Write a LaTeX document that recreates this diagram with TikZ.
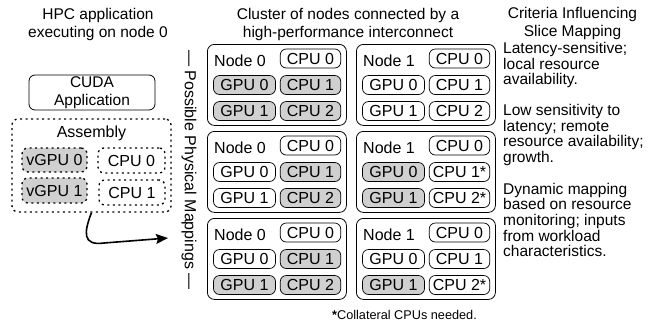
\documentclass[tikz,border=0pt]{standalone}
\usepackage{fontspec}
\setmainfont{Liberation Sans}
\usetikzlibrary{arrows.meta}
\definecolor{boxgray}{RGB}{208,208,208}
\begin{document}
\begin{tikzpicture}[x=1pt,y=-1pt,
  every node/.style={font=\fontsize{16}{18}\selectfont},
  heading/.style={align=center, inner sep=0, font=\fontsize{15.5}{18}\selectfont},
  crit/.style={align=left, anchor=west, inner sep=0, font=\fontsize{15.5}{15.7}\selectfont},
  nodebox/.style={draw, rounded corners=7pt, minimum width=139pt, minimum height=81pt, anchor=north west, inner sep=0, line width=0.8pt},
  unit/.style={draw, rounded corners=6pt, minimum height=19pt, inner sep=0, line width=0.7pt},
  gpuu/.style={unit, minimum width=62pt},
  cpuu/.style={unit, minimum width=60.5pt},
  busy/.style={fill=boxgray},
  dotbox/.style={draw, dash pattern=on 2pt off 3.5pt, line width=1.3pt, rounded corners=6pt, inner sep=0},
]
\useasboundingbox (0,0) rectangle (655,325);

% left column
\node[heading] (hpc) at (98,24) {HPC application\\executing on node 0};
\node[draw, rounded corners=6pt, line width=0.8pt, minimum width=126pt, minimum height=35pt, align=center, inner sep=0, font=\fontsize{15.5}{18}\selectfont] (cuda) at (92,92.5) {CUDA\\Application};
\node[dotbox, minimum width=159pt, minimum height=93pt] (asm) at (91.5,165.5) {};
\node (asml) at (91.5,133) {Assembly};
\node[dotbox, busy, minimum width=65pt, minimum height=24pt] (vg0) at (54.5,160) {vGPU 0};
\node[dotbox, minimum width=67pt, minimum height=25pt] (ac0) at (131.5,160.5) {CPU 0};
\node[dotbox, busy, minimum width=65pt, minimum height=25pt] (vg1) at (54.5,190.5) {vGPU 1};
\node[dotbox, minimum width=66pt, minimum height=25pt] (ac1) at (132,192.5) {CPU 1};
\coordinate (arrowend) at (168,238);
\draw[line width=1.6pt, -{Stealth[length=12pt,width=10pt,inset=2pt]}] (asm.south) .. controls (84,232) and (82,246) .. (104,243) -- (arrowend);

\node[rotate=-90, inner sep=0] (ppm) at (189,170) {— Possible Physical Mappings —};

% cluster
\node[heading] (clh) at (348,24) {Cluster of nodes connected by a\\high-performance interconnect};

% row 1
\begin{scope}[shift={(207,44)}]
\node[nodebox] (b1) at (0,0) {};
\node (b1l) at (33,17) {Node 0};
\node[cpuu] (b1c0) at (103.5,14.5) {CPU 0};
\node[gpuu,busy] (b1g0) at (37.5,41) {GPU 0};
\node[cpuu,busy] (b1c1) at (103.5,41) {CPU 1};
\node[gpuu,busy] (b1g1) at (37.5,67) {GPU 1};
\node[cpuu,busy] (b1c2) at (103.5,67) {CPU 2};
\end{scope}
\begin{scope}[shift={(356,44)}]
\node[nodebox] (b2) at (0,0) {};
\node (b2l) at (33,17) {Node 1};
\node[cpuu] (b2c0) at (103.5,14.5) {CPU 0};
\node[gpuu] (b2g0) at (37.5,41) {GPU 0};
\node[cpuu] (b2c1) at (103.5,41) {CPU 1};
\node[gpuu] (b2g1) at (37.5,67) {GPU 1};
\node[cpuu] (b2c2) at (103.5,67) {CPU 2};
\end{scope}
% row 2
\begin{scope}[shift={(207,131)}]
\node[nodebox] (b3) at (0,0) {};
\node (b3l) at (33,17) {Node 0};
\node[cpuu] (b3c0) at (103.5,14.5) {CPU 0};
\node[gpuu] (b3g0) at (37.5,41) {GPU 0};
\node[cpuu,busy] (b3c1) at (103.5,41) {CPU 1};
\node[gpuu] (b3g1) at (37.5,67) {GPU 1};
\node[cpuu,busy] (b3c2) at (103.5,67) {CPU 2};
\end{scope}
\begin{scope}[shift={(356,131)}]
\node[nodebox] (b4) at (0,0) {};
\node (b4l) at (33,17) {Node 1};
\node[cpuu] (b4c0) at (103.5,14.5) {CPU 0};
\node[gpuu,busy] (b4g0) at (37.5,41) {GPU 0};
\node[cpuu] (b4c1) at (103.5,41) {CPU 1*};
\node[gpuu,busy] (b4g1) at (37.5,67) {GPU 1};
\node[cpuu] (b4c2) at (103.5,67) {CPU 2*};
\end{scope}
% row 3
\begin{scope}[shift={(207,218)}]
\node[nodebox] (b5) at (0,0) {};
\node (b5l) at (33,17) {Node 0};
\node[cpuu] (b5c0) at (103.5,14.5) {CPU 0};
\node[gpuu] (b5g0) at (37.5,41) {GPU 0};
\node[cpuu,busy] (b5c1) at (103.5,41) {CPU 1};
\node[gpuu,busy] (b5g1) at (37.5,67) {GPU 1};
\node[cpuu,busy] (b5c2) at (103.5,67) {CPU 2};
\end{scope}
\begin{scope}[shift={(356,218)}]
\node[nodebox] (b6) at (0,0) {};
\node (b6l) at (33,17) {Node 1};
\node[cpuu] (b6c0) at (103.5,14.5) {CPU 0};
\node[gpuu] (b6g0) at (37.5,41) {GPU 0};
\node[cpuu] (b6c1) at (103.5,41) {CPU 1};
\node[gpuu,busy] (b6g1) at (37.5,67) {GPU 1};
\node[cpuu] (b6c2) at (103.5,67) {CPU 2*};
\end{scope}

\node[inner sep=0, font=\fontsize{12.7}{14}\selectfont] (fn) at (404.5,315) {\textbf{*}Collateral CPUs needed.};

% criteria
\node[heading] (crh) at (572.5,23) {Criteria Influencing\\Slice Mapping};
\node[crit] (c1) at (503,65) {Latency-sensitive;\\local resource\\availability.};
\node[crit] (c2) at (503,135) {Low sensitivity to\\latency; remote\\resource availability;\\growth.};
\node[crit] (c3) at (503,220) {Dynamic mapping\\based on resource\\monitoring; inputs\\from workload\\characteristics.};
\end{tikzpicture}
\end{document}
